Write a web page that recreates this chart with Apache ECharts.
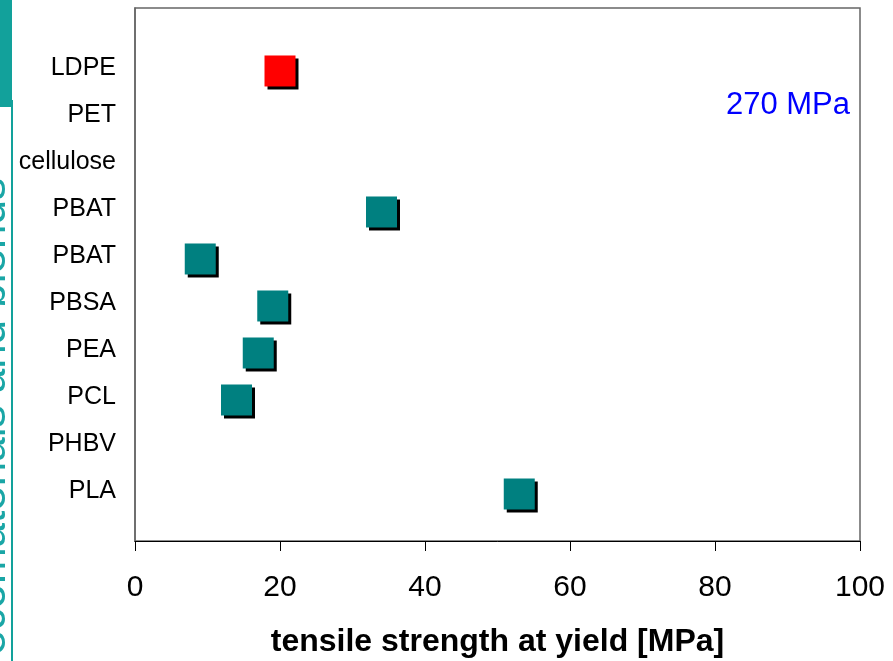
<!DOCTYPE html>
<html>
<head>
<meta charset="utf-8">
<script src="https://cdn.jsdelivr.net/npm/echarts@6/dist/echarts.min.js"></script>
<style>html,body{margin:0;padding:0;background:#fff}#c{width:893px;height:661px}</style>
</head>
<body>
<div id="c"></div>
<script>
// categories listed bottom (position 1) to top (position 10)
const categories = ['PLA', 'PHBV', 'PCL', 'PEA', 'PBSA', 'PBAT', 'PBAT', 'cellulose', 'PET', 'LDPE'];
// tensile strength at yield [MPa]; null = no point shown
const strength = [53, null, 14, 17, 19, 9, 34, null, null, 20];
const highlight = 'LDPE';
const xTicks = [0, 20, 40, 60, 80, 100];
const annotation = '270 MPa';
const xTitle = 'tensile strength at yield [MPa]';

const tealPts = [], redPts = [];
strength.forEach((v, i) => {
  if (v == null) return;
  const p = [v, i + 1];
  (categories[i] === highlight ? redPts : tealPts).push(p);
});

const chart = echarts.init(document.getElementById('c'), null, {renderer: 'canvas'});
const shadow = {shadowColor: '#000', shadowBlur: 0, shadowOffsetX: 3, shadowOffsetY: 3};
chart.setOption({
  animation: false,
  backgroundColor: '#fff',
  textStyle: {fontFamily: 'Liberation Sans, Arial, sans-serif'},
  grid: {left: 135, right: 33, top: 8, bottom: 120, show: true, borderColor: '#666', borderWidth: 1.5,
         backgroundColor: 'transparent', containLabel: false, outerBoundsMode: 'none'},
  xAxis: {
    type: 'value', min: xTicks[0], max: xTicks[xTicks.length - 1], interval: 20,
    splitLine: {show: false},
    axisLine: {show: true, onZero: false, lineStyle: {color: '#000', width: 1}},
    axisTick: {show: true, inside: false, length: 10, lineStyle: {color: '#000'}},
    axisLabel: {color: '#000', fontSize: 30, margin: 32, fontFamily: 'Liberation Sans, Arial, sans-serif'},
    name: xTitle, nameLocation: 'middle', nameGap: 85,
    nameTextStyle: {color: '#000', fontSize: 32, fontWeight: 'bold', fontFamily: 'Liberation Sans, Arial, sans-serif'}
  },
  yAxis: {
    type: 'value', min: 0, max: 11.34, interval: 1,
    splitLine: {show: false},
    axisLine: {show: true, lineStyle: {color: '#666', width: 1.5}},
    axisTick: {show: false},
    axisLabel: {
      color: '#000', fontSize: 25, margin: 19, verticalAlign: 'bottom', lineHeight: 5,
      showMaxLabel: false, showMinLabel: false,
      fontFamily: 'Liberation Sans, Arial, sans-serif',
      formatter: v => (Number.isInteger(v) && v >= 1 && v <= categories.length) ? categories[v - 1] : ''
    }
  },
  series: [
    {type: 'scatter', data: tealPts, symbol: 'rect', symbolSize: 31,
     itemStyle: Object.assign({color: '#008080', opacity: 1}, shadow)},
    {type: 'scatter', data: redPts, symbol: 'rect', symbolSize: 31,
     itemStyle: Object.assign({color: '#FF0000', opacity: 1}, shadow)}
  ],
  graphic: [
    {type: 'text', x: 15, y: 655, rotation: Math.PI / 2, z: -2,
     style: {text: 'ecomaterials and blends', font: '44px "Liberation Sans", Arial', fill: '#1AA6A6', textAlign: 'left', textVerticalAlign: 'bottom'}},
    {type: 'rect', shape: {x: 13, y: 0, width: 100, height: 661}, style: {fill: '#fff'}, z: -1},
    {type: 'rect', shape: {x: 0, y: 0, width: 12, height: 107}, style: {fill: '#12A19B'}, z: 3},
    {type: 'line', shape: {x1: 12, y1: 100, x2: 12, y2: 661}, style: {stroke: '#12A19B', lineWidth: 2}, z: 3},
    {type: 'text', x: 850, y: 105, z: 5,
     style: {text: annotation, font: '31px "Liberation Sans", Arial', fill: '#0000FF', textAlign: 'right', textVerticalAlign: 'middle'}}
  ]
});
</script>
</body>
</html>
